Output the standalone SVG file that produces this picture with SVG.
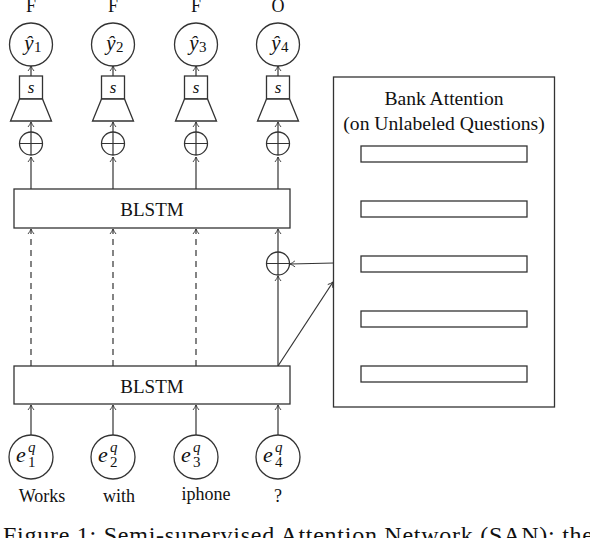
<svg xmlns="http://www.w3.org/2000/svg" width="590" height="538" viewBox="0 0 590 538">
<style>
.ln{stroke:#333;stroke-width:1.2;fill:none}
.bx{stroke:#333;stroke-width:1.3;fill:#fff}
.t{font-family:"Liberation Serif","DejaVu Serif",serif;fill:#111}
.m{font-family:"Liberation Serif","DejaVu Serif",serif;font-style:italic;fill:#111}
.d{stroke-dasharray:6,5}
</style>
<defs>
<marker id="ah" markerWidth="8" markerHeight="8" refX="6" refY="4" orient="auto" markerUnits="userSpaceOnUse">
<path d="M1,1 Q3.5,3 6,4 Q3.5,5 1,7" fill="none" stroke="#333" stroke-width="0.9"/>
</marker>
<g id="oplus"><circle r="11.5" class="bx"/><path d="M-11.5,0H11.5M0,-11.5V11.5" class="ln"/></g>
<g id="head"><rect x="-11.5" y="0" width="23" height="23" class="bx"/><path d="M-11.5,23 L-20.5,45 L20.5,45 L11.5,23 Z" class="bx"/><text x="0" y="16.5" class="m" font-size="17" text-anchor="middle">s</text></g>
</defs>

<g id="connectors">
<path d="M31,189V157" class="ln" marker-end="url(#ah)"/>
<path d="M113,189V157" class="ln" marker-end="url(#ah)"/>
<path d="M196,189V157" class="ln" marker-end="url(#ah)"/>
<path d="M278,189V157" class="ln" marker-end="url(#ah)"/>
<path d="M31,132V122" class="ln" marker-end="url(#ah)"/>
<path d="M113,132V122" class="ln" marker-end="url(#ah)"/>
<path d="M196,132V122" class="ln" marker-end="url(#ah)"/>
<path d="M278,132V122" class="ln" marker-end="url(#ah)"/>
<path d="M31,76V66" class="ln" marker-end="url(#ah)"/>
<path d="M113,76V66" class="ln" marker-end="url(#ah)"/>
<path d="M196,76V66" class="ln" marker-end="url(#ah)"/>
<path d="M278,76V66" class="ln" marker-end="url(#ah)"/>
<path d="M31,366V229" class="ln d" marker-end="url(#ah)"/>
<path d="M113,366V229" class="ln d" marker-end="url(#ah)"/>
<path d="M196,366V229" class="ln d" marker-end="url(#ah)"/>
<path d="M278,366V276" class="ln" marker-end="url(#ah)"/>
<path d="M278,252V229" class="ln" marker-end="url(#ah)"/>
<path d="M334,263L290,264" class="ln" marker-end="url(#ah)"/>
<path d="M278,366L333,282" class="ln" marker-end="url(#ah)"/>
<path d="M31,435V405" class="ln" marker-end="url(#ah)"/>
<path d="M113,435V405" class="ln" marker-end="url(#ah)"/>
<path d="M196,435V405" class="ln" marker-end="url(#ah)"/>
<path d="M278,435V405" class="ln" marker-end="url(#ah)"/>
</g>

<g id="labels-top">
<text x="31" y="12" class="t" font-size="18" text-anchor="middle">F</text>
<text x="113" y="12" class="t" font-size="18" text-anchor="middle">F</text>
<text x="196" y="12" class="t" font-size="18" text-anchor="middle">F</text>
<text x="278" y="12" class="t" font-size="18" text-anchor="middle">O</text>
</g>

<g id="y1"><circle cx="31" cy="44.5" r="21.5" class="bx"/><text x="29" y="50" class="m" font-size="21" text-anchor="middle">ŷ</text><text x="34" y="52" class="t" font-size="15">1</text></g>
<g id="y2"><circle cx="113" cy="44.5" r="21.5" class="bx"/><text x="111" y="50" class="m" font-size="21" text-anchor="middle">ŷ</text><text x="116" y="52" class="t" font-size="15">2</text></g>
<g id="y3"><circle cx="196" cy="44.5" r="21.5" class="bx"/><text x="194" y="50" class="m" font-size="21" text-anchor="middle">ŷ</text><text x="199" y="52" class="t" font-size="15">3</text></g>
<g id="y4"><circle cx="278" cy="44.5" r="21.5" class="bx"/><text x="276" y="50" class="m" font-size="21" text-anchor="middle">ŷ</text><text x="281" y="52" class="t" font-size="15">4</text></g>

<g id="s1"><use href="#head" x="31" y="76"/></g>
<g id="s2"><use href="#head" x="113" y="76"/></g>
<g id="s3"><use href="#head" x="196" y="76"/></g>
<g id="s4"><use href="#head" x="278" y="76"/></g>

<g id="p1"><use href="#oplus" x="31" y="143.5"/></g>
<g id="p2"><use href="#oplus" x="113" y="143.5"/></g>
<g id="p3"><use href="#oplus" x="196" y="143.5"/></g>
<g id="p4"><use href="#oplus" x="278" y="143.5"/></g>
<g id="p5"><use href="#oplus" x="278" y="263.5"/></g>

<g id="blstm-top"><rect x="14" y="189" width="276" height="39" class="bx"/><text x="152" y="216" class="t" font-size="19" text-anchor="middle">BLSTM</text></g>
<g id="blstm-bottom"><rect x="14" y="366" width="276" height="38" class="bx"/><text x="152" y="393" class="t" font-size="19" text-anchor="middle">BLSTM</text></g>

<g id="bank">
<rect x="333.5" y="77" width="221" height="330" class="bx"/>
<text x="444" y="105" class="t" font-size="19.6" text-anchor="middle">Bank Attention</text>
<text x="444" y="130" class="t" font-size="19.6" text-anchor="middle">(on Unlabeled Questions)</text>
<rect x="361" y="146" width="166" height="16" class="bx"/>
<rect x="361" y="201" width="166" height="16" class="bx"/>
<rect x="361" y="256" width="166" height="16" class="bx"/>
<rect x="361" y="311" width="166" height="16" class="bx"/>
<rect x="361" y="366" width="166" height="16" class="bx"/>
</g>

<g id="e1"><circle cx="31" cy="457" r="22" class="bx"/><text x="16" y="462" class="m" font-size="22">e</text><text x="28" y="452" class="m" font-size="15">q</text><text x="28" y="467" class="t" font-size="15">1</text></g>
<g id="e2"><circle cx="113" cy="457" r="22" class="bx"/><text x="98" y="462" class="m" font-size="22">e</text><text x="110" y="452" class="m" font-size="15">q</text><text x="110" y="467" class="t" font-size="15">2</text></g>
<g id="e3"><circle cx="196" cy="457" r="22" class="bx"/><text x="181" y="462" class="m" font-size="22">e</text><text x="193" y="452" class="m" font-size="15">q</text><text x="193" y="467" class="t" font-size="15">3</text></g>
<g id="e4"><circle cx="278" cy="457" r="22" class="bx"/><text x="263" y="462" class="m" font-size="22">e</text><text x="275" y="452" class="m" font-size="15">q</text><text x="275" y="467" class="t" font-size="15">4</text></g>

<g id="words">
<text x="42" y="502" class="t" font-size="18" text-anchor="middle">Works</text>
<text x="119" y="502" class="t" font-size="18" text-anchor="middle">with</text>
<text x="206" y="500" class="t" font-size="18" text-anchor="middle">iphone</text>
<text x="278" y="502" class="t" font-size="18" text-anchor="middle">?</text>
</g>

<text x="3" y="543" class="t" font-size="24" textLength="590" lengthAdjust="spacing">Figure 1: Semi-supervised Attention Network (SAN): the</text>
</svg>
